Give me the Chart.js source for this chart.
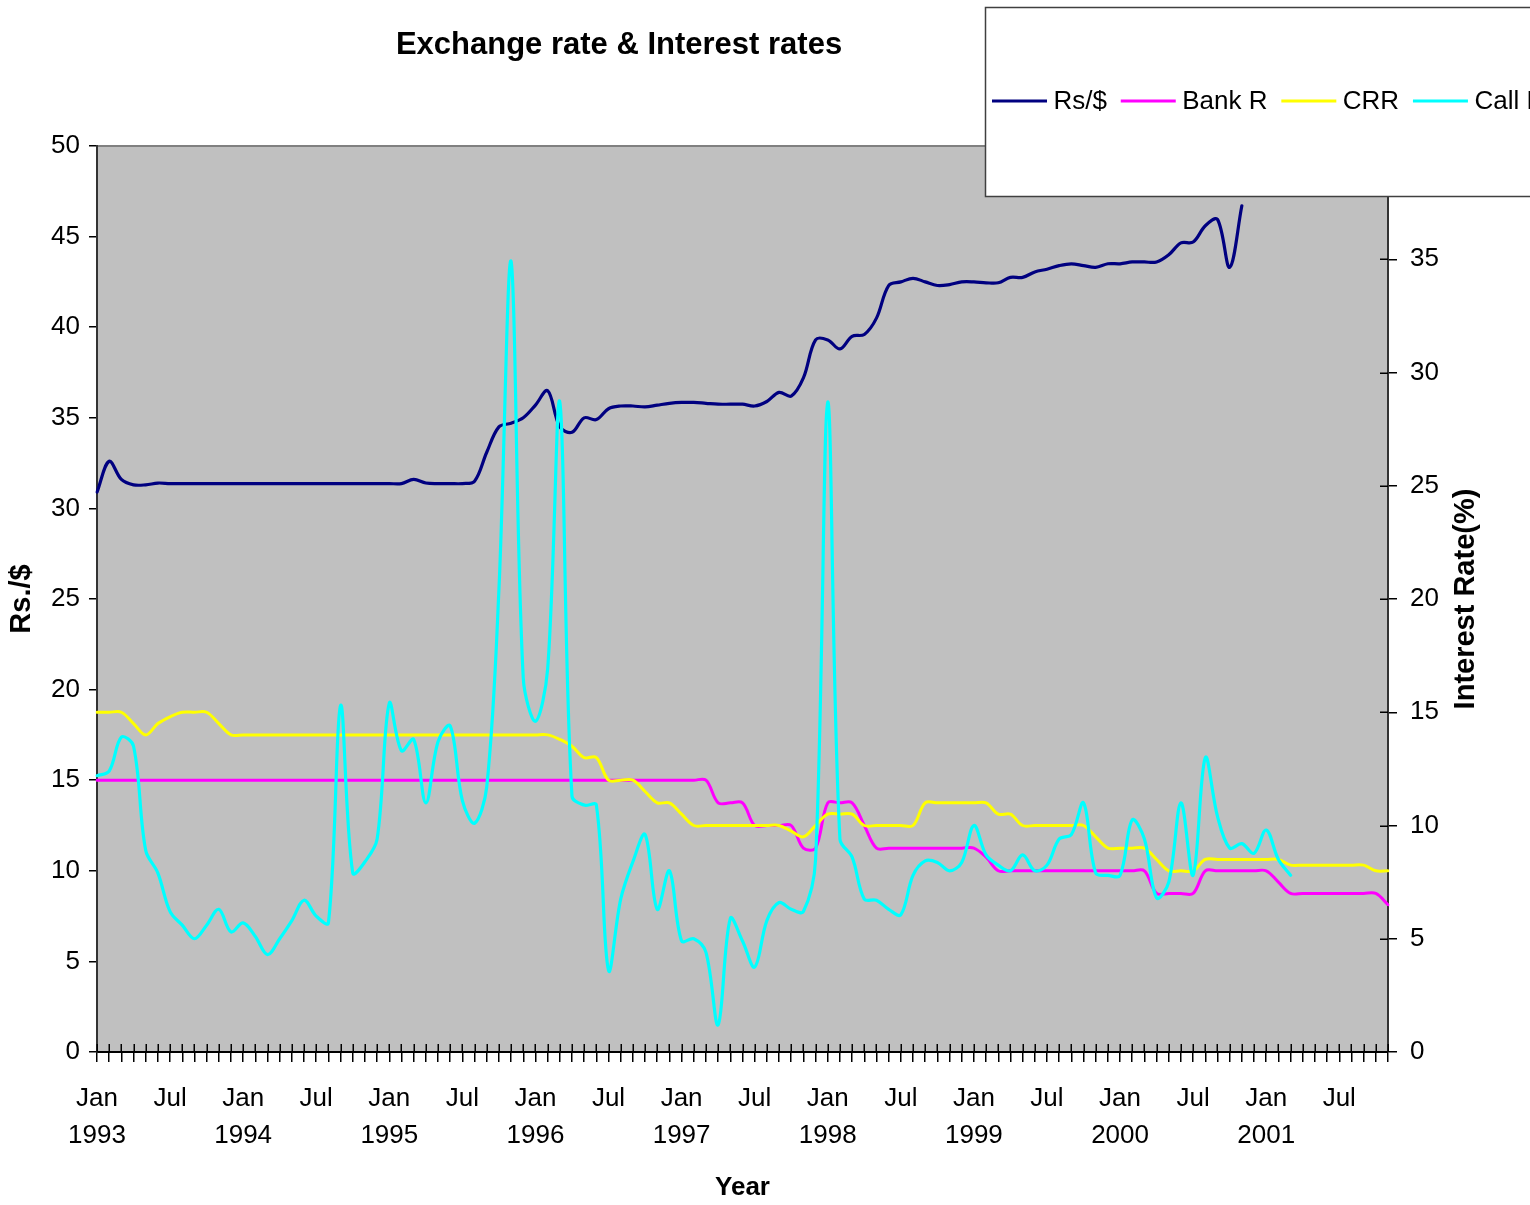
<!DOCTYPE html>
<html>
<head>
<meta charset="utf-8">
<script src="https://cdn.jsdelivr.net/npm/chart.js@4/dist/chart.umd.min.js"></script>
<style>
  html, body { margin: 0; padding: 0; background: #ffffff; overflow: hidden; }
  #wrap { width: 1530px; height: 1205px; position: relative; }
</style>
</head>
<body>
<div id="wrap"><canvas id="c" width="1530" height="1205"></canvas></div>
<script>
// ---------- categories ----------
const MONTHS = ['Jan','Feb','Mar','Apr','May','Jun','Jul','Aug','Sep','Oct','Nov','Dec'];
const YEARS = [1993, 1994, 1995, 1996, 1997, 1998, 1999, 2000, 2001];
const N_MONTHS = 107; // Jan 1993 .. Nov 2001
const CATEGORIES = [];
for (const y of YEARS) for (const m of MONTHS) CATEGORIES.push(m + ' ' + y);
CATEGORIES.length = N_MONTHS;

// tick labels shown on the month axis
const TICK_LABEL_MONTHS = ['Jan', 'Jul'];
const YEAR_LABEL_MONTH = 'Jan';

// ---------- series ----------
// Rs/$ (left axis)
const RS_PER_USD = [
  30.9, 32.6, 31.6, 31.3, 31.3, 31.4, 31.37, 31.37, 31.37, 31.37, 31.37, 31.37,
  31.37, 31.37, 31.37, 31.37, 31.37, 31.37, 31.37, 31.37, 31.37, 31.37, 31.37, 31.37,
  31.37, 31.37, 31.6, 31.4, 31.37, 31.37, 31.37, 31.5, 33.1, 34.5, 34.7, 35.0,
  35.7, 36.5, 34.5, 34.2, 35.0, 34.9, 35.5, 35.65, 35.65, 35.6, 35.7, 35.8,
  35.85, 35.85, 35.8, 35.75, 35.75, 35.75, 35.65, 35.9, 36.4, 36.2, 37.2, 39.3,
  39.3, 38.8, 39.5, 39.6, 40.5, 42.3, 42.5, 42.7, 42.5, 42.3, 42.35, 42.5,
  42.5, 42.45, 42.45, 42.75, 42.75, 43.05, 43.2, 43.4, 43.5, 43.4, 43.3, 43.5,
  43.5, 43.6, 43.6, 43.6, 44.0, 44.65, 44.7, 45.6, 45.95, 43.3, 46.7
];
// Bank Rate (right axis, %)
const BANK_RATE = [
  12, 12, 12, 12, 12, 12, 12, 12, 12, 12, 12, 12,
  12, 12, 12, 12, 12, 12, 12, 12, 12, 12, 12, 12,
  12, 12, 12, 12, 12, 12, 12, 12, 12, 12, 12, 12,
  12, 12, 12, 12, 12, 12, 12, 12, 12, 12, 12, 12,
  12, 12, 12, 11, 11, 11, 10, 10, 10, 10, 9, 9,
  11, 11, 11, 10, 9, 9, 9, 9, 9, 9, 9, 9,
  9, 8.6, 8, 8, 8, 8, 8, 8, 8, 8, 8, 8,
  8, 8, 8, 7, 7, 7, 7, 8, 8, 8, 8, 8,
  8, 7.5, 7, 7, 7, 7, 7, 7, 7, 7, 6.5
];
// CRR (right axis, %)
const CRR = [
  15, 15, 15, 14.5, 14, 14.5, 14.8, 15, 15, 15, 14.5, 14,
  14, 14, 14, 14, 14, 14, 14, 14, 14, 14, 14, 14,
  14, 14, 14, 14, 14, 14, 14, 14, 14, 14, 14, 14,
  14, 14, 13.8, 13.5, 13, 13, 12, 12, 12, 11.5, 11, 11,
  10.5, 10, 10, 10, 10, 10, 10, 10, 10, 9.75, 9.5, 10,
  10.5, 10.5, 10.5, 10, 10, 10, 10, 10, 11, 11, 11, 11,
  11, 11, 10.5, 10.5, 10, 10, 10, 10, 10, 10, 9.5, 9,
  9, 9, 9, 8.5, 8, 8, 8, 8.5, 8.5, 8.5, 8.5, 8.5,
  8.5, 8.5, 8.25, 8.25, 8.25, 8.25, 8.25, 8.25, 8.25, 8, 8
];
// Call Rate (right axis, %)
const CALL_RATE = [
  12.2, 12.4, 13.9, 13.5, 8.9, 7.9, 6.2, 5.6, 5.0, 5.6, 6.3, 5.3,
  5.7, 5.1, 4.3, 5.0, 5.8, 6.7, 6.0, 5.7, 15.3, 7.9, 8.4, 9.4,
  15.4, 13.3, 13.8, 11.0, 13.7, 14.4, 11.1, 10.1, 11.7, 20.4, 34.9, 16.5,
  14.6, 16.9, 28.7, 11.3, 10.9, 10.9, 3.6, 6.75, 8.4, 9.6, 6.3, 8.0,
  4.9, 5.0, 4.4, 1.2, 5.9, 4.9, 3.75, 5.8, 6.6, 6.3, 6.2, 8.5,
  28.7, 9.4, 8.6, 6.75, 6.7, 6.3, 6.06, 7.8, 8.44, 8.37, 8.0, 8.37,
  10.0, 8.7, 8.25, 8.0, 8.7, 8.0, 8.25, 9.4, 9.6, 11.0, 7.9, 7.8,
  7.8, 10.25, 9.4, 6.8, 7.5, 11.0, 7.8, 13.0, 10.4, 9.0, 9.2, 8.77,
  9.8, 8.5, 7.8
];

const SERIES_LABELS = ['Rs/$', 'Bank R', 'CRR', 'Call Rate'];
const SERIES_COLORS = ['#000080', '#FF00FF', '#FFFF00', '#00FFFF'];

const FONT = "'Liberation Sans', Arial, Helvetica, sans-serif";
Chart.defaults.font.family = FONT;
Chart.defaults.color = '#000000';

const decor = {
  id: 'decor',
  afterLayout(chart) {
    const t = chart.titleBlock;
    if (t) { t.left = 0; t.right = 1238; t.width = 1238; }
  },
  beforeDraw(chart) {
    const { ctx, chartArea: a } = chart;
    ctx.save();
    ctx.fillStyle = '#C0C0C0';
    ctx.fillRect(a.left, a.top, a.right - a.left, a.bottom - a.top);
    ctx.strokeStyle = '#808080';
    ctx.lineWidth = 2;
    ctx.beginPath();
    ctx.moveTo(a.left, a.top);
    ctx.lineTo(a.right, a.top);
    ctx.stroke();
    ctx.restore();
  },
  afterDraw(chart) {
    const { ctx, chartArea: a } = chart;
    ctx.save();
    // inner halves of the crossing tick marks
    ctx.strokeStyle = '#000000';
    ctx.lineWidth = 1.5;
    const xs = chart.scales.x;
    ctx.beginPath();
    xs.ticks.forEach((t, i) => {
      const x = Math.round(xs.getPixelForTick(i)) + 0.25;
      ctx.moveTo(x, a.bottom - 8);
      ctx.lineTo(x, a.bottom);
    });
    const yr = chart.scales.y1;
    yr.ticks.forEach((t, i) => {
      const y = Math.round(yr.getPixelForTick(i)) + 0.25;
      ctx.moveTo(a.right - 8, y);
      ctx.lineTo(a.right, y);
    });
    ctx.stroke();

    // right axis title (reads bottom to top)
    ctx.save();
    ctx.translate(1466, (a.top + a.bottom) / 2);
    ctx.rotate(-Math.PI / 2);
    ctx.font = 'bold 29px ' + FONT;
    ctx.fillStyle = '#000000';
    ctx.textAlign = 'center';
    ctx.textBaseline = 'middle';
    ctx.fillText('Interest Rate(%)', 0, 0);
    ctx.restore();

    // legend box
    ctx.fillStyle = '#FFFFFF';
    ctx.fillRect(985, 7, 600, 189);
    ctx.strokeStyle = '#404040';
    ctx.lineWidth = 1.5;
    ctx.strokeRect(985.5, 7.5, 600, 189);
    let x = 992;
    const y = 101;
    ctx.font = '26px ' + FONT;
    ctx.textBaseline = 'middle';
    ctx.textAlign = 'left';
    SERIES_LABELS.forEach((lab, i) => {
      const ds = chart.data.datasets[i];
      ctx.strokeStyle = ds.borderColor;
      ctx.lineWidth = 3;
      ctx.beginPath();
      ctx.moveTo(x, y);
      ctx.lineTo(x + 55, y);
      ctx.stroke();
      x += 61.5;
      ctx.fillStyle = '#000000';
      ctx.fillText(ds.label, x, y + 1);
      x += ctx.measureText(ds.label).width + 13.8;
    });
    ctx.restore();
  }
};

function monthTick(value) {
  const lab = CATEGORIES[value] || '';
  const [m, yr] = lab.split(' ');
  if (m === YEAR_LABEL_MONTH) return [m, yr];
  if (TICK_LABEL_MONTHS.includes(m)) return m;
  return '';
}

const TENSION = 0.35;

new Chart(document.getElementById('c'), {
  type: 'line',
  data: {
    labels: CATEGORIES,
    datasets: [
      { label: SERIES_LABELS[0], data: RS_PER_USD, yAxisID: 'y', borderColor: SERIES_COLORS[0], borderWidth: 3.2, order: 4 },
      { label: SERIES_LABELS[1], data: BANK_RATE, yAxisID: 'y1', borderColor: SERIES_COLORS[1], borderWidth: 3, order: 3 },
      { label: SERIES_LABELS[2], data: CRR, yAxisID: 'y1', borderColor: SERIES_COLORS[2], borderWidth: 3, order: 2 },
      { label: SERIES_LABELS[3], data: CALL_RATE, yAxisID: 'y1', borderColor: SERIES_COLORS[3], borderWidth: 3.2, order: 1 }
    ]
  },
  options: {
    responsive: false,
    devicePixelRatio: 1,
    animation: false,
    events: [],
    layout: { padding: 0 },
    elements: {
      point: { radius: 0, hoverRadius: 0 },
      line: { tension: TENSION, fill: false, borderCapStyle: 'round', borderJoinStyle: 'round' }
    },
    plugins: {
      legend: { display: false },
      tooltip: { enabled: false },
      title: {
        display: true,
        text: 'Exchange rate & Interest rates',
        color: '#000000',
        font: { size: 31, weight: 'bold', family: FONT },
        padding: { top: 26.4, bottom: 82.4 }
      }
    },
    scales: {
      x: {
        type: 'category',
        position: 'bottom',
        offset: false,
        afterFit(scale) { scale.height = 153; },
        grid: { drawOnChartArea: false, drawTicks: true, tickLength: 10, color: '#000000', lineWidth: 1.5, offset: false },
        border: { display: true, color: '#000000', width: 2 },
        ticks: {
          autoSkip: false, maxRotation: 0, minRotation: 0,
          padding: 18.5,
          color: '#000000',
          font: { size: 26, lineHeight: 1.42 },
          callback: (v) => monthTick(v)
        },
        title: {
          display: true, text: 'Year', color: '#000000',
          font: { size: 26, weight: 'bold' },
          padding: { top: 0, bottom: 1.4 }
        }
      },
      y: {
        position: 'left',
        min: 0, max: 50,
        afterFit(scale) { scale.width = 97; },
        grid: { drawOnChartArea: false, drawTicks: true, tickLength: 8, color: '#000000', lineWidth: 1.5 },
        border: { display: true, color: '#333333', width: 2 },
        ticks: { stepSize: 5, padding: 9, color: '#000000', font: { size: 26 } },
        title: {
          display: true, text: 'Rs./$', color: '#000000',
          font: { size: 29, weight: 'bold' },
          padding: { top: 4.6, bottom: 0 }
        }
      },
      y1: {
        position: 'right',
        min: 0, max: 40,
        afterFit(scale) { scale.width = 142; },
        grid: { drawOnChartArea: false, drawTicks: true, tickLength: 9, color: '#000000', lineWidth: 1.5 },
        border: { display: true, color: '#333333', width: 2 },
        ticks: { stepSize: 5, padding: 13, color: '#000000', font: { size: 26 } },
        title: { display: false }
      }
    }
  },
  plugins: [decor]
});
</script>
</body>
</html>
